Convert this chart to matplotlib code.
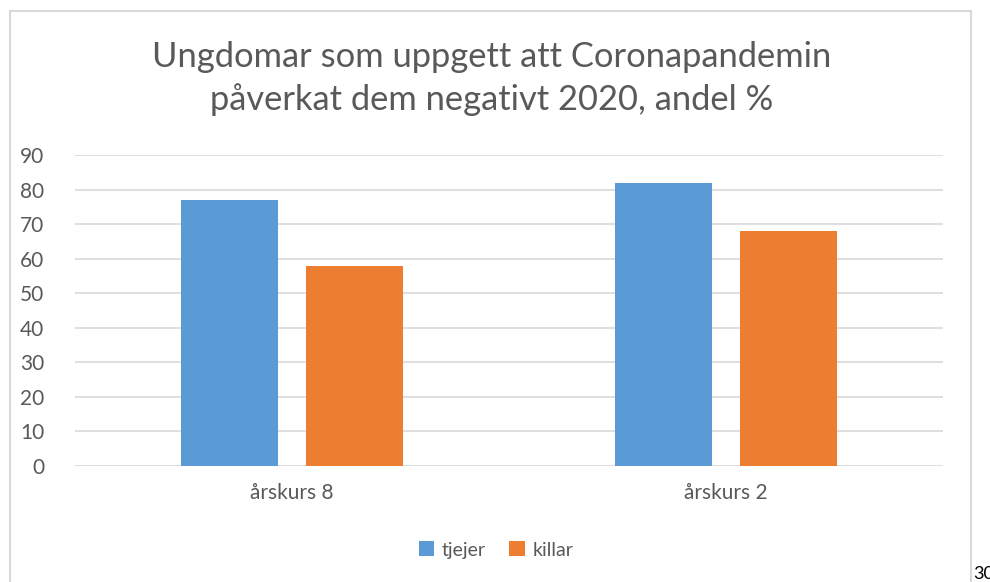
import numpy as np
import matplotlib.pyplot as plt
from matplotlib.patches import Rectangle

# Data
categories = ['årskurs 8', 'årskurs 2']
series_names = ['tjejer', 'killar']
tjejer = [77, 82]
killar = [58, 68]
yticks = [0, 10, 20, 30, 40, 50, 60, 70, 80, 90]

plt.rcParams['font.family'] = ['Lato', 'DejaVu Sans']

fig = plt.figure(figsize=(9.9, 5.82), dpi=100)
W, H = 990, 582
ax = fig.add_axes([75 / W, 1 - 466 / H, (943 - 75) / W, (466 - 155) / H])

x = np.arange(len(categories))
width = 0.2235
off = 0.1435
ax.bar(x - off, tjejer, width, color='#5B9BD5', label=series_names[0], zorder=3)
ax.bar(x + off, killar, width, color='#ED7D31', label=series_names[1], zorder=3)

ax.set_xlim(-0.5, 1.5)
ax.set_ylim(0, 90)
ax.set_yticks(yticks)
ax.set_xticks(x)
ax.set_xticklabels(categories)
ax.yaxis.grid(True, color='#d9d9d9', linewidth=1.2, zorder=0)
ax.tick_params(axis='both', length=0, labelcolor='#595959', labelsize=15)
ax.tick_params(axis='y', pad=22)
ax.tick_params(axis='x', pad=12)
for s in ax.spines.values():
    s.set_visible(False)

fig.text(492 / W, 1 - 57 / H, 'Ungdomar som uppgett att Coronapandemin',
         ha='center', va='center', fontsize=24.8, color='#595959')
fig.text(492 / W, 1 - 100 / H, 'påverkat dem negativt 2020, andel %',
         ha='center', va='center', fontsize=24.8, color='#595959')

fig.legend(loc='center', bbox_to_anchor=(496 / W, 1 - 550 / H), ncol=2, frameon=False,
           fontsize=14, labelcolor='#595959', handlelength=0.8, handleheight=0.8,
           handletextpad=0.4, columnspacing=1.2)

# chart border
fig.patches.append(Rectangle((10 / W, -0.05), (971 - 10) / W, 1.05 - 11 / H,
                             transform=fig.transFigure, fill=False,
                             edgecolor='#d9d9d9', linewidth=1.5))
fig.text(973 / W, 1 - 574 / H, '30', ha='left', va='center', fontsize=13, color='black')

fig.savefig('out.png', dpi=100)
